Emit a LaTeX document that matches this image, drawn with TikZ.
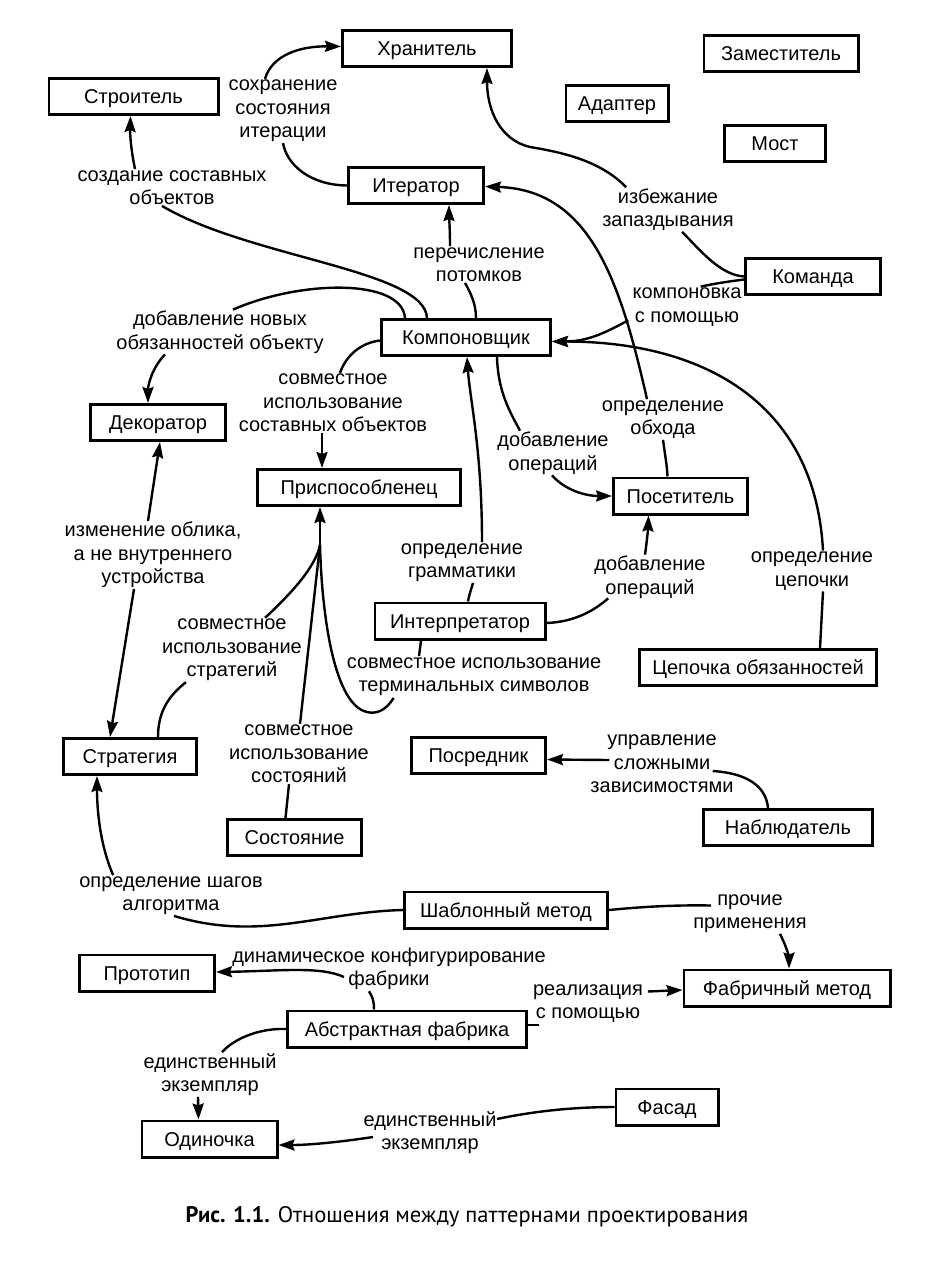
\documentclass[tikz,border=0pt]{standalone}
\usepackage{fontspec}
\setmainfont{Liberation Sans}
\newfontfamily\capfont{PT Sans}
\usetikzlibrary{arrows.meta,calc}
\tikzset{
  box/.style={draw, line width=2.8pt, minimum height=36.2pt, inner sep=0pt, text height=14.3pt, text depth=0pt, font=\fontsize{20}{23.5}\selectfont},
  lbl/.style={align=center, inner sep=1pt, font=\fontsize{20}{23.5}\selectfont},
  ln/.style={line width=2.4pt},
  >={Stealth[length=16pt,width=11pt,inset=2pt]}
}
\begin{document}
\begin{tikzpicture}[x=1pt,y=1pt]
\fill[white] (0,0) rectangle (942,-1274);
\useasboundingbox (0,0) rectangle (942,-1274);
% boxes
\node[box, minimum width=169.2pt] (hran) at (427,-48.5) {Хранитель};
\node[box, minimum width=169.2pt] (stroi) at (133.5,-96.5) {Строитель};
\node[box, minimum width=154.2pt] (zam) at (781,-53.5) {Заместитель};
\node[box, minimum width=102.2pt] (adapt) at (617,-103.5) {Адаптер};
\node[box, minimum width=101.2pt] (most) at (775,-143.5) {Мост};
\node[box, minimum width=135.2pt] (iter) at (416,-185.5) {Итератор};
\node[box, minimum width=135.2pt] (komanda) at (813,-276.5) {Команда};
\node[box, minimum width=169.2pt] (komp) at (466,-337.5) {Компоновщик};
\node[box, minimum width=135.2pt] (dekor) at (158,-422.5) {Декоратор};
\node[box, minimum width=203.2pt] (prisp) at (359,-487.5) {Приспособленец};
\node[box, minimum width=134.2pt] (poset) at (680.5,-496) {Посетитель};
\node[box, minimum width=170.2pt] (interp) at (460,-621) {Интерпретатор};
\node[box, minimum width=237.2pt] (cep) at (758,-667.5) {Цепочка обязанностей};
\node[box, minimum width=133.2pt] (strat) at (130,-756.5) {Стратегия};
\node[box, minimum width=134.2pt] (posred) at (478.5,-755.5) {Посредник};
\node[box, minimum width=169.2pt] (nabl) at (788,-827.5) {Наблюдатель};
\node[box, minimum width=134.2pt] (sost) at (294.5,-837.5) {Состояние};
\node[box, minimum width=203.2pt] (shabl) at (506,-910) {Шаблонный метод};
\node[box, minimum width=135.2pt] (proto) at (147,-973) {Прототип};
\node[box, minimum width=206.2pt] (fabm) at (787,-988) {Фабричный метод};
\node[box, minimum width=239.2pt] (absf) at (407,-1029) {Абстрактная фабрика};
\node[box, minimum width=102.2pt] (fasad) at (667,-1107) {Фасад};
\node[box, minimum width=135.2pt] (odin) at (209.5,-1139) {Одиночка};
% labels
\node[lbl] (L1) at (283,-111) {сохранение\\состояния\\итерации};
\node[lbl] (L2) at (172,-187.5) {создание составных\\объектов};
\node[lbl] (L3) at (479,-264.5) {перечисление\\потомков};
\node[lbl] (L4) at (668,-209.5) {избежание\\запаздывания};
\node[lbl] (L5) at (687,-307) {компоновка\\с помощью};
\node[lbl] (L6) at (220,-332) {добавление новых\\обязанностей объекту};
\node[lbl] (L7) at (333,-403) {совместное\\использование\\составных объектов};
\node[lbl] (L8) at (553,-453) {добавление\\операций};
\node[lbl] (L9) at (663,-419.5) {определение\\обхода};
\node[lbl] (L10) at (153,-555) {изменение облика,\\а не внутреннего\\устройства};
\node[lbl] (L11) at (462,-562.5) {определение\\грамматики};
\node[lbl] (L12) at (650,-577) {добавление\\операций};
\node[lbl] (L13) at (812,-571) {определение\\цепочки};
\node[lbl] (L14) at (232,-650) {совместное\\использование\\стратегий};
\node[lbl] (L15) at (474,-676.5) {совместное использование\\терминальных символов};
\node[lbl] (L16) at (299,-754) {совместное\\использование\\состояний};
\node[lbl] (L17) at (662,-764) {управление\\сложными\\зависимостями};
\node[lbl] (L18) at (171,-895.5) {определение шагов\\алгоритма};
\node[lbl] (L19) at (750,-913.5) {прочие\\применения};
\node[lbl] (L20) at (389,-969) {динамическое конфигурирование\\фабрики};
\node[lbl] (L21) at (588,-1003.5) {реализация\\с помощью};
\node[lbl] (L22) at (210,-1074.5) {единственный\\экземпляр};
\node[lbl] (L23) at (430,-1132.5) {единственный\\экземпляр};
\node[font=\capfont\fontsize{22.5}{26}\selectfont] (cap) at (467,-1217) {\textbf{Рис. 1.1.} Отношения между паттернами проектирования};
\coordinate (merge) at (320,-545);
% connectors
% Iterator -> Memento
\draw[ln] (iter.west) .. controls (310,-185) and (287,-165) .. (L1.south);
\draw[ln,->] ($(L1.north)+(-18,0)$) .. controls (272,-55) and (300,-46) .. ($(hran.west)+(0,2)$);
% Composite -> Builder
\draw[ln] ($(komp.north west)+(47,0)$) .. controls (425,-270) and (250,-258) .. ($(L2.south)+(-10,0)$);
\draw[ln,->] ($(L2.north)+(-37,0)$) .. controls (131,-150) and (130,-135) .. ($(stroi.south)+(-3,0)$);
% Composite -> Iterator
\draw[ln] ($(komp.north west)+(96,0)$) .. controls (476,-303) and (470,-292) .. ($(L3.south)+(-14,0)$);
\draw[ln,->] ($(L3.north)+(-29,0)$) .. controls (450,-228) and (449,-215) .. ($(iter.south)+(33,0)$);
% Command -> Memento
\draw[ln] (komanda.west) .. controls (720,-275) and (700,-250) .. ($(L4.south)+(14,0)$);
\draw[ln,->] ($(L4.north west)+(25,0)$) .. controls (600,-160) and (560,-152) .. (530,-147) .. controls (500,-140) and (487,-110) .. ($(hran.south)+(60,0)$);
% Command -> Composite
\draw[ln] ($(komanda.west)+(0,-3)$) .. controls (725,-282) and (712,-284) .. ($(L5.north east)+(-42,0)$);
\draw[ln,->] ($(L5.south west)+(-3,7)$) .. controls (610,-330) and (590,-341.5) .. ($(komp.east)+(0,-4)$);
% Visitor -> Iterator
\draw[ln] ($(poset.north)+(-13,0)$) .. controls (667,-465) and (665,-455) .. (L9.south);
\draw[ln,->] ($(L9.north)+(-16,0)$) .. controls (620,-280) and (590,-190) .. ($(iter.east)+(0,-1)$);
% Composite -> Decorator
\draw[ln] ($(komp.north west)+(25,0)$) .. controls (402,-278) and (300,-280) .. ($(L6.north)+(13,0)$);
\draw[ln,->] ($(L6.south)+(-55,0)$) .. controls (152,-368) and (148,-385) .. ($(dekor.north)+(-10,0)$);
% Composite -> Flyweight
\draw[ln] ($(komp.west)+(0,-3)$) .. controls (360,-343) and (346,-356) .. ($(L7.north)+(7,0)$);
\draw[ln,->] ($(L7.south)+(-11,0)$) -- ($(prisp.north)+(-37,0)$);
% Composite -> Visitor
\draw[ln] ($(komp.south)+(31,0)$) .. controls (498,-392) and (510,-412) .. ($(L8.north)+(-33,0)$);
\draw[ln,->] ($(L8.south)+(-1,0)$) .. controls (565,-490) and (585,-496) .. (poset.west);
% Chain -> Composite
\draw[ln] ($(cep.north)+(62,0)$) .. controls (821,-630) and (822,-610) .. ($(L13.south)+(11,0)$);
\draw[ln,->] ($(L13.north)+(11,0)$) .. controls (815,-400) and (700,-341.5) .. ($(komp.east)+(0,-4)$);
% Interpreter -> Composite
\draw[ln] ($(interp.north)+(8,0)$) .. controls (469,-595) and (471,-590) .. ($(L11.south)+(11,0)$);
\draw[ln,->] ($(L11.north)+(20,0)$) .. controls (482,-450) and (470,-400) .. ($(komp.south)+(1,0)$);
% Interpreter -> Visitor
\draw[ln] ($(interp.east)+(0,-2)$) .. controls (575,-622) and (595,-610) .. ($(L12.south west)+(15,1)$);
\draw[ln,->] ($(L12.north)+(-5,0)$) .. controls (647,-540) and (648,-530) .. ($(poset.south)+(-32,0)$);
% Decorator <-> Strategy
\draw[ln,->] ($(L10.north)+(-5,0)$) -- ($(dekor.south)+(2,0)$);
\draw[ln,->] ($(L10.south)+(-19,0)$) -- ($(strat.north)+(-20,0)$);
% Strategy -> Flyweight
\draw[ln] ($(strat.north)+(28,0)$) .. controls (158,-710) and (170,-695) .. ($(L14.south west)+(25,0)$);
\draw[ln] ($(L14.north east)+(-38,0)$) .. controls (295,-590) and (316,-565) .. (merge);
% Interpreter -> Flyweight
\draw[ln] ($(interp.south)+(-39,0)$) -- ($(L15.north)+(-55,0)$);
\draw[ln] ($(L15.south west)+(48,-1)$) .. controls (385,-712) and (375,-714) .. (367,-712) .. controls (335,-705) and (322,-620) .. (merge);
% State -> Flyweight
\draw[ln] ($(sost.north)+(-9,0)$) -- ($(L16.south)+(-10,0)$);
\draw[ln] ($(L16.north)+(1,0)$) -- (merge);
\draw[ln,->] (merge) -- (prisp.south -| merge);
% Observer -> Mediator
\draw[ln] ($(nabl.north)+(-20,0)$) .. controls (766,-785) and (745,-773) .. ($(L17.east)+(-22,-7)$);
\draw[ln,->] ($(L17.west)+(20,4)$) -- ($(posred.east)+(0,-4)$);
% Template -> Strategy
\draw[ln] (shabl.west) .. controls (320,-912) and (260,-942) .. ($(L18.south)+(3,0)$);
\draw[ln,->] ($(L18.north west)+(35,0)$) .. controls (100,-845) and (97,-810) .. ($(strat.south)+(-33,0)$);
% Template -> Factory Method
\draw[ln] (shabl.east) .. controls (650,-906) and (680,-905) .. ($(L19.west)+(19,8)$);
\draw[ln,->] ($(L19.south)+(30,0)$) .. controls (788,-950) and (789,-958) .. ($(fabm.north)+(2,0)$);
% Abstract Factory -> Prototype
\draw[ln] ($(absf.north)+(-33,0)$) .. controls (374,-1000) and (372,-996) .. ($(L20.south)+(-20,0)$);
\draw[ln,->] ($(L20)+(-45,-8)$) .. controls (320,-966) and (280,-971) .. ($(proto.east)+(0,1)$);
% Abstract Factory -> Factory Method
\draw[ln] ($(absf.east)+(0,4)$) -- ($(L21)+(-49,-21.5)$);
\draw[ln,->] ($(L21)+(60,12)$) -- ($(fabm.west)+(0,-2)$);
% Abstract Factory -> Singleton
\draw[ln] (absf.west) .. controls (260,-1028) and (235,-1038) .. ($(L22.north)+(12,0)$);
\draw[ln,->] ($(L22.south)+(-12,0)$) -- ($(odin.north)+(-11,0)$);
% Facade -> Singleton
\draw[ln] (fasad.west) .. controls (570,-1107) and (530,-1112) .. ($(L23)+(67,13.5)$);
\draw[ln,->] ($(L23)+(-57,-4.5)$) .. controls (340,-1142) and (310,-1145) .. ($(odin.east)+(0,-6)$);
\end{tikzpicture}
\end{document}
